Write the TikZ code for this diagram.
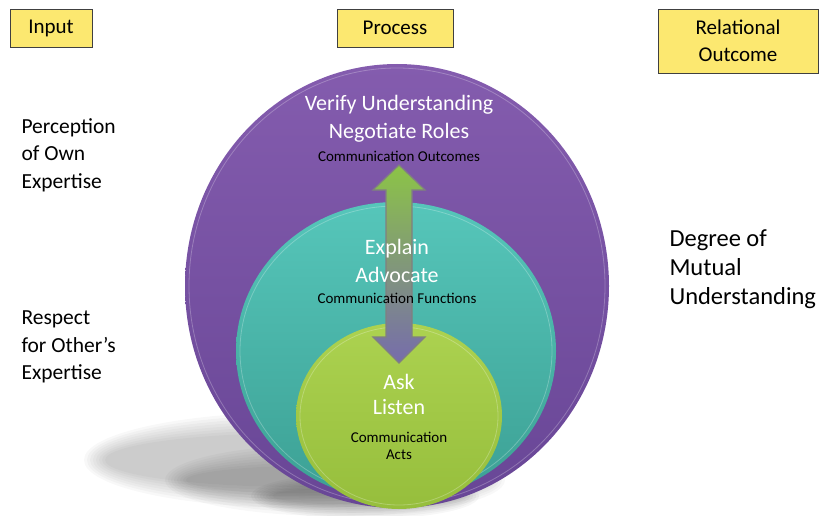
\documentclass[tikz,border=0pt]{standalone}
\usepackage{fontspec}
\setmainfont{Carlito}
\usetikzlibrary{positioning}
\definecolor{boxyellow}{RGB}{252,232,112}
\definecolor{purpletop}{RGB}{132,92,174}
\definecolor{purplebot}{RGB}{104,70,150}
\definecolor{tealtop}{RGB}{86,198,186}
\definecolor{tealbot}{RGB}{60,160,148}
\definecolor{greentop}{RGB}{172,210,80}
\definecolor{greenbot}{RGB}{150,190,60}
\definecolor{arrowtop}{RGB}{140,196,70}
\definecolor{arrowbot}{RGB}{118,108,172}
\begin{document}
\begin{tikzpicture}[x=1pt,y=-1pt]
        \tikzset{hdr/.style={draw=black!75, semithick, fill=boxyellow, align=center,
                             inner sep=0pt, font=\fontsize{21}{27}\selectfont},
                 side/.style={anchor=west, align=left, font=\fontsize{21.5}{27.5}\selectfont},
                 big/.style={white, align=center, font=\fontsize{22}{28}\selectfont},
                 small/.style={black, align=center, font=\fontsize{15}{17}\selectfont},
                 rim/.style={draw=white, draw opacity=0.25, line width=0.8pt}}
        \useasboundingbox (0,0) rectangle (821,516);

        % shadows
        \foreach \k in {0,...,7} {
          \fill[black, opacity=0.028] (302,460) ellipse [x radius=218-3*\k, y radius=48-3*\k];
          \fill[black, opacity=0.028] (335,480) ellipse [x radius=170-3*\k, y radius=36-3*\k];
          \fill[black, opacity=0.03] (365,496) ellipse [x radius=114-3*\k, y radius=23-2*\k];
        }

        % circles
        \shade[top color=purpletop, bottom color=purplebot] (397,286) ellipse [x radius=212, y radius=222];
        \draw[rim] (397,286) ellipse [x radius=208, y radius=218];
        \shade[top color=tealtop, bottom color=tealbot] (396,351) ellipse [x radius=160, y radius=149];
        \draw[rim] (396,351) ellipse [x radius=156, y radius=145];
        \shade[top color=greentop, bottom color=greenbot] (399,416) ellipse [x radius=103, y radius=93];
        \draw[rim] (399,416) ellipse [x radius=99, y radius=89];

        % double arrow
        \shade[top color=arrowtop, bottom color=arrowbot, draw=gray, line width=1.2pt]
              (399,165) -- (425,190) -- (412,190) -- (412,337) -- (425,337)
              -- (399,363) -- (373,337) -- (386,337) -- (386,190) -- (373,190) -- cycle;

        % headers
        \node[hdr, minimum width=82pt, minimum height=38pt] (input) at (51,28) {Input};
        \node[hdr, minimum width=116pt, minimum height=38pt] (process) at (395,28) {Process};
        \node[hdr, minimum width=160pt, minimum height=64pt] (outcome) at (738,41) {Relational\\Outcome};

        % side texts
        \node[side] (own) at (18,155) {Perception\\of Own\\Expertise};
        \node[side] (other) at (18,347) {Respect\\for Other’s\\Expertise};
        \node[side, font=\fontsize{24.5}{29}\selectfont] (mutual) at (666,269) {Degree of\\Mutual\\Understanding};

        % circle texts
        \node[big] (verify) at (399,119) {Verify Understanding\\Negotiate Roles};
        \node[small] (outlbl) at (399,156) {Communication Outcomes};
        \node[big] (explain) at (397,261) {Explain\\Advocate};
        \node[small] (funclbl) at (397,298) {Communication Functions};
        \node[big, font=\fontsize{22}{25}\selectfont] (ask) at (399,394) {Ask\\Listen};
        \node[small] (actlbl) at (399,446) {Communication\\Acts};
      \end{tikzpicture}
\end{document}
